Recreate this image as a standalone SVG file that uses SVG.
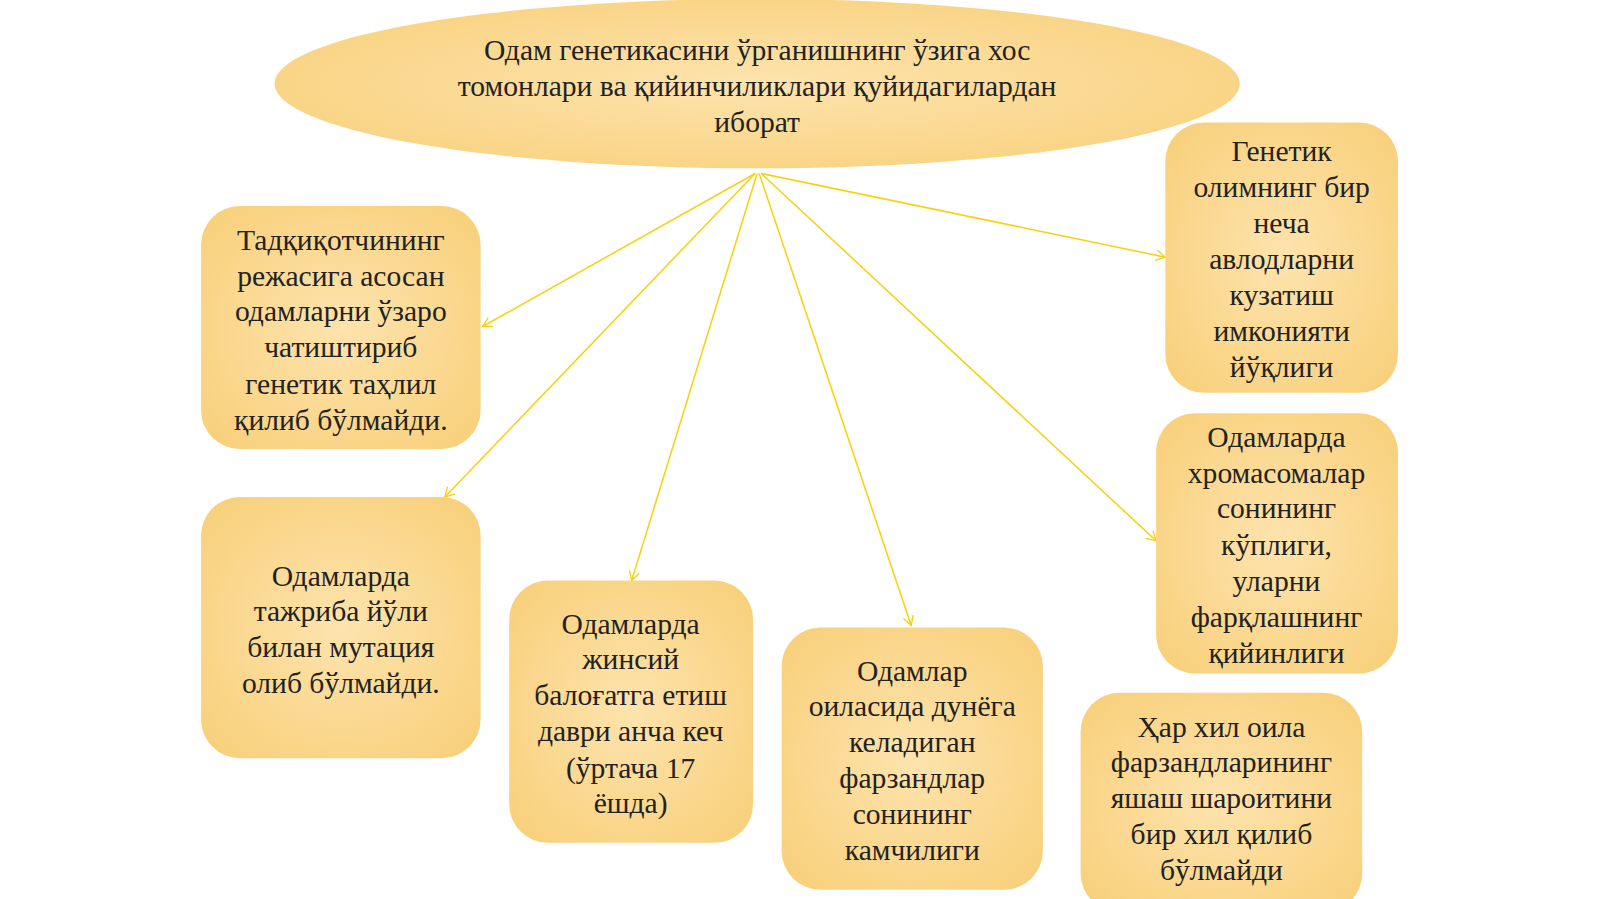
<svg xmlns="http://www.w3.org/2000/svg" width="1600" height="899" viewBox="0 0 1600 899">
<defs>
<radialGradient id="g" cx="50%" cy="50%" r="70%"><stop offset="0" stop-color="#fde3ad"/><stop offset="1" stop-color="#f8cf78"/></radialGradient>
<marker id="a" markerWidth="12" markerHeight="12" refX="10" refY="6" orient="auto" markerUnits="userSpaceOnUse"><path d="M1,1 L10,6 L1,11" fill="none" stroke="#f5d211" stroke-width="1.3"/></marker>
</defs>
<style>
.n{fill:url(#g)}
.t{font-family:"Liberation Serif",serif;font-size:29px;fill:#222;text-anchor:middle}
.c line{stroke:#f5d211;stroke-width:1.5;marker-end:url(#a)}
</style>
<rect width="1600" height="899" fill="#fff"/>
<g transform="scale(1.0204)">
<g class="c">
<line x1="740" y1="170" x2="473" y2="320"/>
<line x1="740" y1="170" x2="436" y2="487"/>
<line x1="742" y1="170" x2="619" y2="569"/>
<line x1="744" y1="170" x2="893" y2="613"/>
<line x1="746" y1="170" x2="1133" y2="530"/>
<line x1="746" y1="170" x2="1142" y2="252"/>
</g>
<g id="top"><ellipse class="n" cx="742" cy="82" rx="473" ry="83"/>
<text class="t" x="742" y="59">Одам генетикасини ўрганишнинг ўзига хос</text>
<text class="t" x="742" y="94">томонлари ва қийинчиликлари қуйидагилардан</text>
<text class="t" x="742" y="129">иборат</text></g>
<g id="n1"><rect class="n" x="197" y="202" width="274" height="238" rx="38"/>
<text class="t" x="334" y="245">Тадқиқотчининг</text><text class="t" x="334" y="280">режасига асосан</text><text class="t" x="334" y="315">одамларни ўзаро</text><text class="t" x="334" y="350">чатиштириб</text><text class="t" x="334" y="386">генетик таҳлил</text><text class="t" x="334" y="421">қилиб бўлмайди.</text></g>
<g id="n2"><rect class="n" x="197" y="487" width="274" height="256" rx="38"/>
<text class="t" x="334" y="574">Одамларда</text><text class="t" x="334" y="609">тажриба йўли</text><text class="t" x="334" y="644">билан мутация</text><text class="t" x="334" y="679">олиб бўлмайди.</text></g>
<g id="n3"><rect class="n" x="499" y="569" width="239" height="257" rx="38"/>
<text class="t" x="618" y="621">Одамларда</text><text class="t" x="618" y="656">жинсий</text><text class="t" x="618" y="691">балоғатга етиш</text><text class="t" x="618" y="726">даври анча кеч</text><text class="t" x="618" y="762">(ўртача 17</text><text class="t" x="618" y="797">ёшда)</text></g>
<g id="n4"><rect class="n" x="766" y="615" width="256" height="257" rx="38"/>
<text class="t" x="894" y="667">Одамлар</text><text class="t" x="894" y="702">оиласида дунёга</text><text class="t" x="894" y="737">келадиган</text><text class="t" x="894" y="772">фарзандлар</text><text class="t" x="894" y="808">сонининг</text><text class="t" x="894" y="843">камчилиги</text></g>
<g id="n5"><rect class="n" x="1059" y="679" width="276" height="215" rx="38"/>
<text class="t" x="1197" y="722">Ҳар хил оила</text><text class="t" x="1197" y="757">фарзандларининг</text><text class="t" x="1197" y="792">яшаш шароитини</text><text class="t" x="1197" y="827">бир хил қилиб</text><text class="t" x="1197" y="862">бўлмайди</text></g>
<g id="n6"><rect class="n" x="1133" y="405" width="237" height="255" rx="38"/>
<text class="t" x="1251" y="438">Одамларда</text><text class="t" x="1251" y="473">хромасомалар</text><text class="t" x="1251" y="508">сонининг</text><text class="t" x="1251" y="544">кўплиги,</text><text class="t" x="1251" y="579">уларни</text><text class="t" x="1251" y="614">фарқлашнинг</text><text class="t" x="1251" y="650">қийинлиги</text></g>
<g id="n7"><rect class="n" x="1142" y="120" width="228" height="265" rx="38"/>
<text class="t" x="1256" y="158">Генетик</text><text class="t" x="1256" y="193">олимнинг бир</text><text class="t" x="1256" y="228">неча</text><text class="t" x="1256" y="264">авлодларни</text><text class="t" x="1256" y="299">кузатиш</text><text class="t" x="1256" y="334">имконияти</text><text class="t" x="1256" y="369">йўқлиги</text></g>
</g>
</svg>
